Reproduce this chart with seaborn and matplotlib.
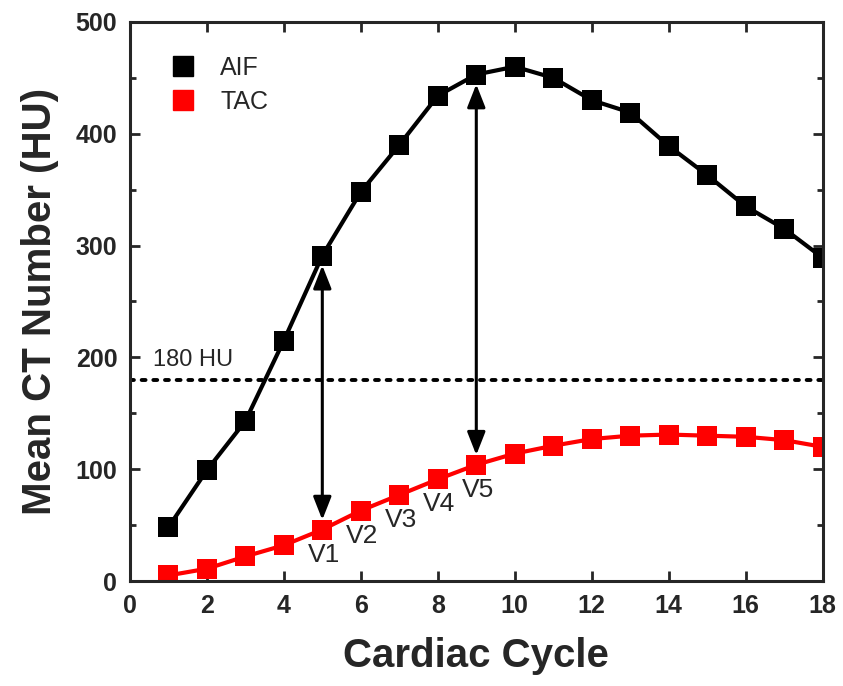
import matplotlib
matplotlib.use("Agg")
import matplotlib.pyplot as plt
import seaborn as sns
import pandas as pd
from matplotlib.lines import Line2D
from matplotlib.ticker import MultipleLocator

cycle = list(range(1, 19))
aif = [48, 99, 143, 215, 291, 348, 390, 434, 453, 460, 450, 430, 419, 389, 363, 335, 315, 289]
tac = [5, 11, 22, 32, 46, 63, 77, 91, 104, 114, 121, 127, 130, 131, 130, 129, 126, 120]
v_labels = ["V1", "V2", "V3", "V4", "V5"]
v_cycles = [5, 6, 7, 8, 9]
arrow_cycles = [5, 9]
threshold = 180

df = pd.DataFrame({"Cycle": cycle, "AIF": aif, "TAC": tac})

sns.set_style("ticks")
plt.rcParams["font.family"] = ["Liberation Sans", "DejaVu Sans"]

fig = plt.figure(figsize=(8.43, 6.86), dpi=100)
ax = fig.add_axes([0.154, 0.153, 0.822, 0.815])

sns.lineplot(data=df, x="Cycle", y="AIF", color="black", marker="s", markersize=14,
             markeredgewidth=0, linewidth=3, ax=ax)
sns.lineplot(data=df, x="Cycle", y="TAC", color="#ff0000", marker="s", markersize=14,
             markeredgewidth=0, linewidth=3, ax=ax)

ax.axhline(threshold, color="black", linestyle=(0, (1, 2)), linewidth=2.8, dash_capstyle="round")
ax.text(0.6, threshold + 8, "180 HU", fontsize=17, ha="left", va="bottom")

for c in arrow_cycles:
    ax.annotate("", xy=(c, tac[c - 1]), xytext=(c, aif[c - 1]),
                arrowprops=dict(arrowstyle="<|-|>,head_length=1.4,head_width=0.55",
                                color="black", lw=2.2, shrinkA=7, shrinkB=7))

for lab, c in zip(v_labels, v_cycles):
    ax.annotate(lab, xy=(c, tac[c - 1]), xytext=(1, -18), textcoords="offset points",
                fontsize=19, ha="center", va="center")

ax.set_xlim(0, 18)
ax.set_ylim(0, 500)
ax.xaxis.set_major_locator(MultipleLocator(2))
ax.yaxis.set_major_locator(MultipleLocator(100))
ax.yaxis.set_minor_locator(MultipleLocator(50))
ax.tick_params(which="both", direction="in", top=True, right=True, width=2)
ax.tick_params(which="major", length=7, labelsize=18, pad=9)
ax.tick_params(which="minor", length=4)
for t in ax.get_xticklabels() + ax.get_yticklabels():
    t.set_fontweight("bold")
for s in ax.spines.values():
    s.set_linewidth(2.2)

ax.set_xlabel("Cardiac Cycle", fontsize=29, fontweight="bold", labelpad=14)
ax.set_ylabel("Mean CT Number (HU)", fontsize=29, fontweight="bold", labelpad=12)

handles = [Line2D([], [], color="black", marker="s", linestyle="none", markersize=15),
           Line2D([], [], color="#ff0000", marker="s", linestyle="none", markersize=15)]
ax.legend(handles, ["AIF", "TAC"], loc="upper left", bbox_to_anchor=(0.008, 0.98),
          frameon=False, fontsize=18, handletextpad=0.5, labelspacing=0.4)

fig.savefig("out.png", dpi=100)
